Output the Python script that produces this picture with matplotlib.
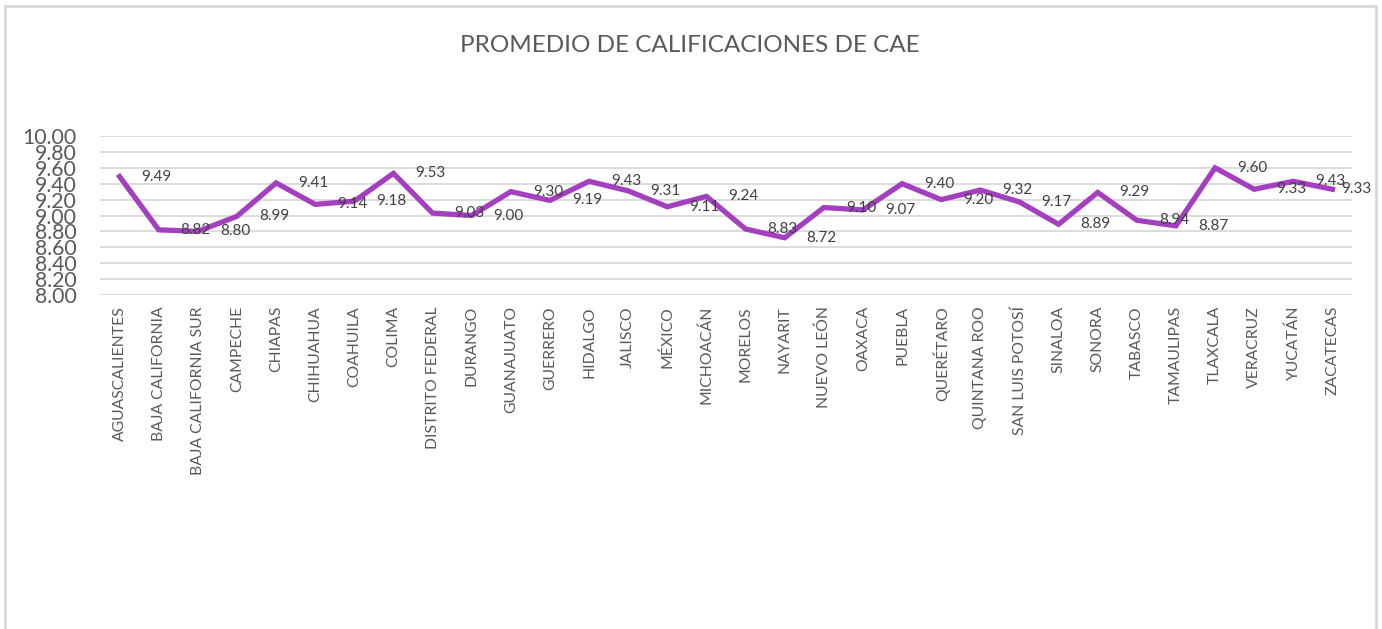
import matplotlib
matplotlib.use("Agg")
import matplotlib.pyplot as plt
from matplotlib.patches import Rectangle
from matplotlib.ticker import FormatStrFormatter, MultipleLocator

plt.rcParams['font.family'] = ['Lato', 'DejaVu Sans']

states = ["AGUASCALIENTES", "BAJA CALIFORNIA", "BAJA CALIFORNIA SUR", "CAMPECHE", "CHIAPAS",
          "CHIHUAHUA", "COAHUILA", "COLIMA", "DISTRITO FEDERAL", "DURANGO", "GUANAJUATO",
          "GUERRERO", "HIDALGO", "JALISCO", "MÉXICO", "MICHOACÁN", "MORELOS", "NAYARIT",
          "NUEVO LEÓN", "OAXACA", "PUEBLA", "QUERÉTARO", "QUINTANA ROO", "SAN LUIS POTOSÍ",
          "SINALOA", "SONORA", "TABASCO", "TAMAULIPAS", "TLAXCALA", "VERACRUZ", "YUCATÁN",
          "ZACATECAS"]
promedio = [9.49, 8.82, 8.80, 8.99, 9.41, 9.14, 9.18, 9.53, 9.03, 9.00, 9.30,
            9.19, 9.43, 9.31, 9.11, 9.24, 8.83, 8.72, 9.10, 9.07, 9.40, 9.20,
            9.32, 9.17, 8.89, 9.29, 8.94, 8.87, 9.60, 9.33, 9.43, 9.33]
title = "PROMEDIO DE CALIFICACIONES DE CAE"

W, H = 1382, 629
fig = plt.figure(figsize=(W / 100, H / 100), dpi=100)
fig.patch.set_facecolor('white')

# outer chart border
fig.add_artist(Rectangle((5 / W, -0.05), (1376 - 5) / W, (H - 6) / H + 0.05,
                         transform=fig.transFigure, fill=False,
                         edgecolor='#D9D9D9', linewidth=2))

left, right, top, bottom = 100, 1352, 136, 295
ax = fig.add_axes([left / W, (H - bottom) / H, (right - left) / W, (bottom - top) / H])

x = list(range(len(states)))
ax.plot(x, promedio, color='#A43FC0', linewidth=3.8, solid_joinstyle='miter', zorder=3)

n = len(states)
for xi, v in zip(x, promedio):
    off = 9 if xi == n - 1 else 22
    ax.annotate(f"{v:.2f}", (xi, v), xytext=(off, 0), textcoords='offset pixels',
                ha='left', va='center', fontsize=11, color='#404040', zorder=4,
                annotation_clip=False)

ax.set_xlim(-0.5, n - 0.5)
ax.set_ylim(8.0, 10.0)
ax.yaxis.set_major_locator(MultipleLocator(0.2))
ax.yaxis.set_major_formatter(FormatStrFormatter('%.2f'))
ax.grid(axis='y', color='#D9D9D9', linewidth=1.3, zorder=0)
ax.set_axisbelow(True)
for s in ax.spines.values():
    s.set_visible(False)

ax.set_xticks(x)
ax.set_xticklabels(states, rotation=90, fontsize=11.3, color='#595959', va='top')
ax.tick_params(axis='x', length=0, pad=8)
ax.tick_params(axis='y', length=0, pad=17, labelsize=15.3, labelcolor='#595959')

fig.text(690 / W, 1 - 46 / H, title, ha='center', va='center', fontsize=17.5, color='#595959')

fig.savefig("out.png", dpi=100, facecolor='white')
